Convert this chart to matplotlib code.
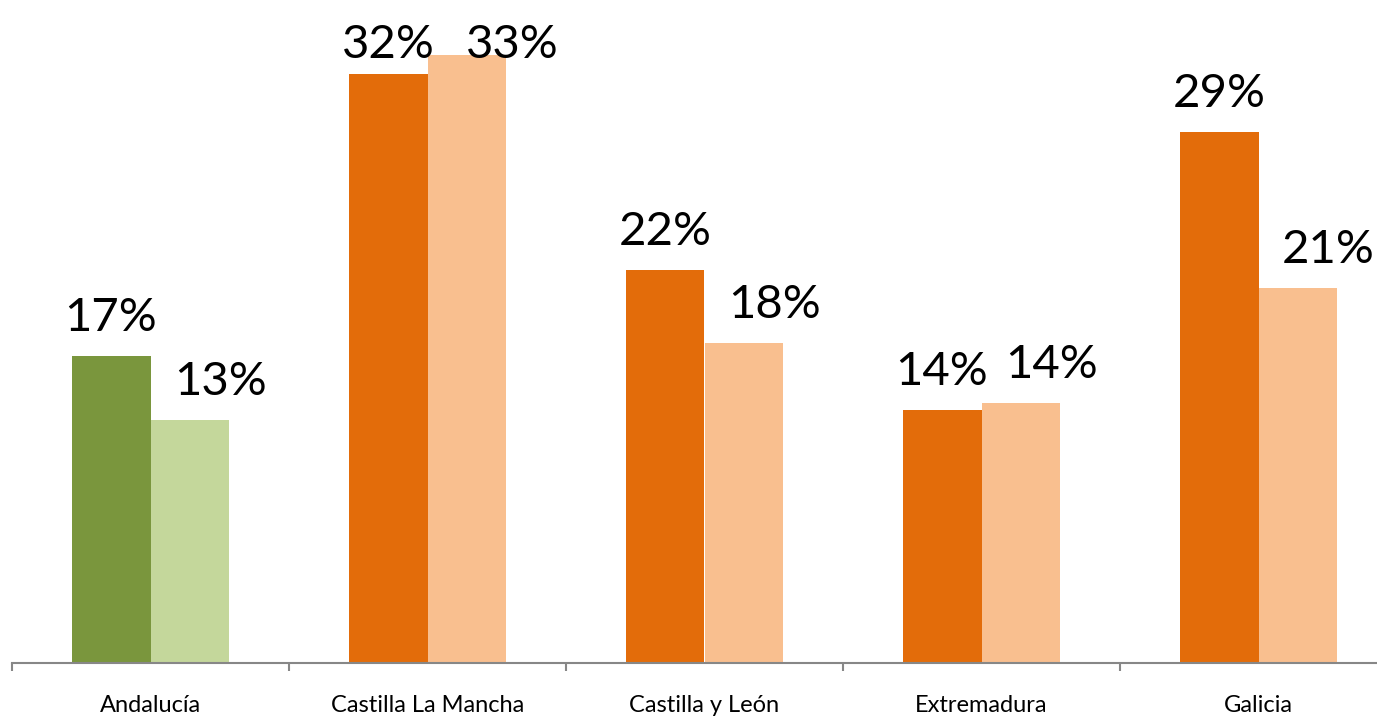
import matplotlib.pyplot as plt
import numpy as np

categories = ["Andalucía", "Castilla La Mancha", "Castilla y León", "Extremadura", "Galicia"]
serie_a = [16.8, 32.2, 21.5, 13.8, 29.0]
serie_b = [13.3, 33.2, 17.5, 14.2, 20.5]
labels_a = ["17%", "32%", "22%", "14%", "29%"]
labels_b = ["13%", "33%", "18%", "14%", "21%"]
colors_a = ["#7A963D", "#E36C0A", "#E36C0A", "#E36C0A", "#E36C0A"]
colors_b = ["#C4D79B", "#F9BF8F", "#F9BF8F", "#F9BF8F", "#F9BF8F"]

plt.rcParams['font.family'] = ['Lato', 'DejaVu Sans']

fig = plt.figure(figsize=(13.77, 7.18), dpi=100)
ax = fig.add_axes([12 / 1377, 55 / 718, 1385 / 1377, 663 / 718])

x = np.arange(len(categories))
w = 0.285
ax.bar(x - w / 2, serie_a, w, color=colors_a)
ax.bar(x + w / 2, serie_b, w, color=colors_b)

ymax = 663 / 18.3
ax.set_ylim(0, ymax)
ax.set_xlim(-0.5, len(categories) - 0.5)

# etiquetas: 25px encima de la barra, sin salirse por arriba
gap = 25 / 18.3
tope = (663 - 58) / 18.3
for i in range(len(categories)):
    ax.text(x[i] - w / 2, min(serie_a[i] + gap, tope), labels_a[i],
            ha="center", va="baseline", fontsize=34, color="black")
    dx = 0.11
    if serie_b[i] + gap > tope:  # la etiqueta choca con la vecina, se aparta un poco
        dx = 0.165
    ax.text(x[i] + w / 2 + dx, min(serie_b[i] + gap, tope), labels_b[i],
            ha="center", va="baseline", fontsize=34, color="black", clip_on=False)

for s in ["left", "right", "top"]:
    ax.spines[s].set_visible(False)
ax.spines["bottom"].set_color("#878787")
ax.spines["bottom"].set_linewidth(1.5)

ax.set_yticks([])
ax.set_xticks(np.arange(-0.5, len(categories) + 0.5, 1))
ax.set_xticklabels([])
ax.tick_params(axis="x", which="major", length=6, width=1.5, color="#878787")
ax.set_xticks(x, minor=True)
ax.set_xticklabels(categories, minor=True, fontsize=17)
ax.tick_params(axis="x", which="minor", length=0, pad=23)

fig.savefig("out.png", dpi=100)
